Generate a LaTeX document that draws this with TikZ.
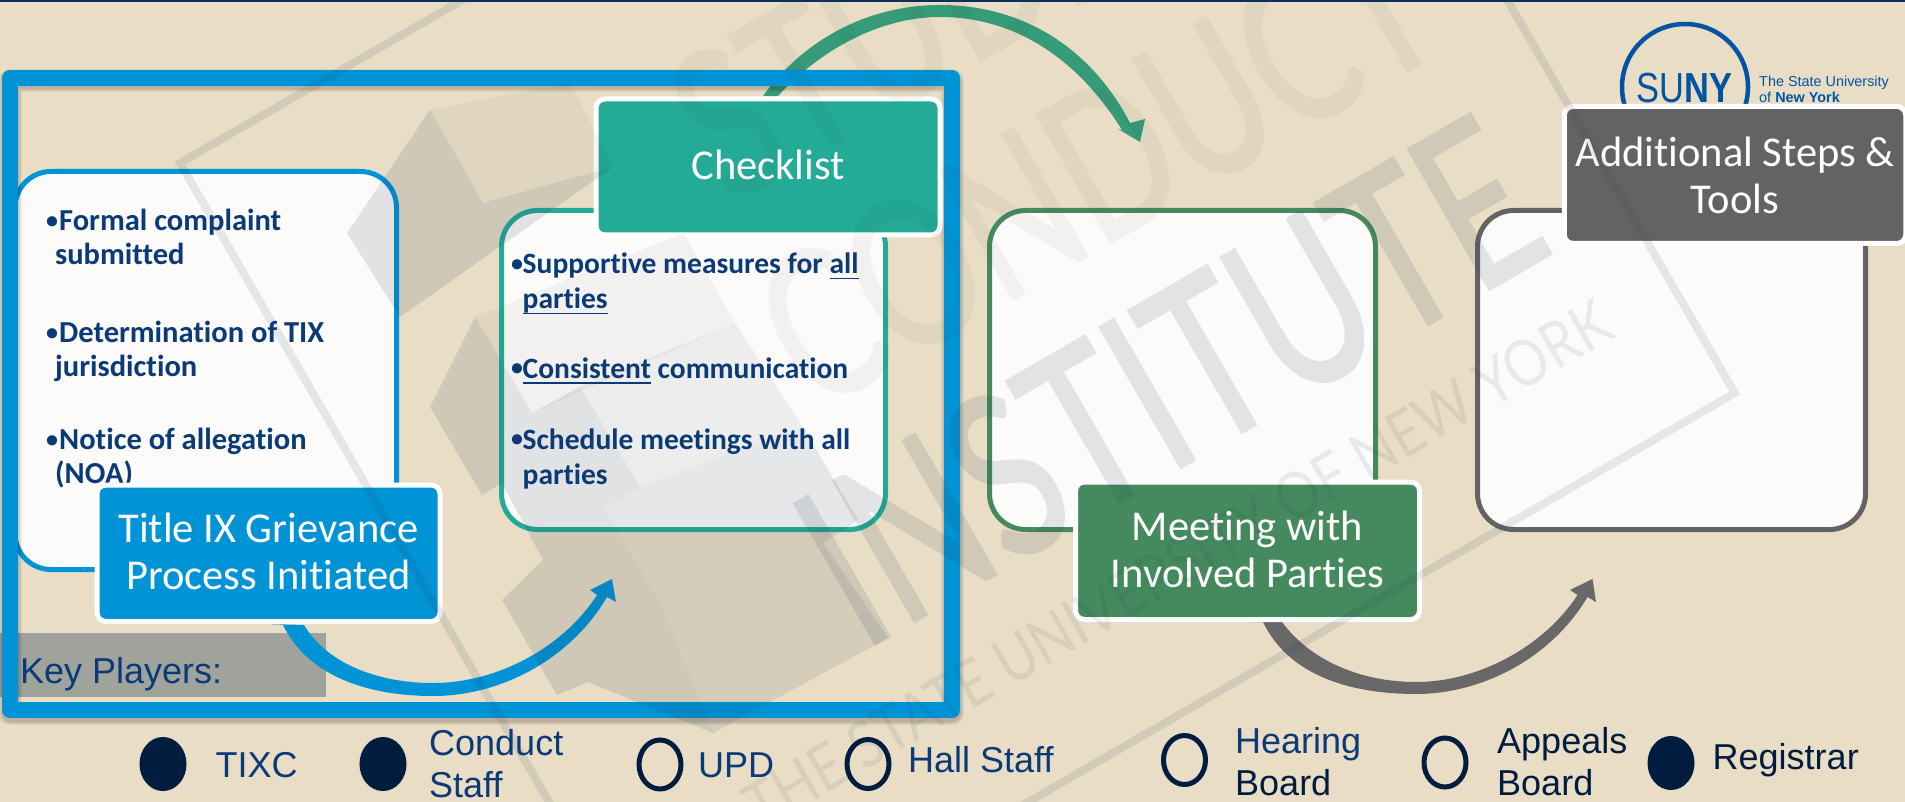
\documentclass[tikz,border=0pt]{standalone}
\usepackage{fontspec}
\usetikzlibrary{shapes.geometric}
\setmainfont{Liberation Sans}
\newfontfamily\calfont[Ligatures=NoCommon]{Carlito}
\newfontfamily\latofont[UprightFeatures={FakeBold=1.6}]{Lato}
\newfontfamily\latoplain{Lato}
\newcommand\ulx[1]{\setbox0=\hbox{#1}\rlap{\rule[-5.5pt]{\wd0}{1.7pt}}\box0{}}
\newcommand\bul[1]{\makebox[#1][l]{\raisebox{2.5pt}{\fontsize{24}{24}\selectfont •}}}
\definecolor{bgc}{HTML}{E9DDC5}
\definecolor{topbar}{HTML}{0B2F5C}
\definecolor{boxfill}{HTML}{FCFBF9}
\definecolor{blueC}{HTML}{0093D6}
\definecolor{tealC}{HTML}{23AB97}
\definecolor{greenC}{HTML}{448A5E}
\definecolor{grayC}{HTML}{636363}
\definecolor{arrgreen}{HTML}{359B78}
\definecolor{keygray}{HTML}{9FA39C}
\definecolor{navy}{HTML}{0A3A78}
\definecolor{deep}{HTML}{001D3F}
\definecolor{sunyblue}{HTML}{0054A4}
\definecolor{wm}{RGB}{40,60,90}
\definecolor{wmlight}{RGB}{70,70,60}
\pgfdeclarelayer{rectlayer}
\pgfdeclarelayer{arrowlayer}
\pgfsetlayers{rectlayer,arrowlayer,main}
\tikzset{
 bodybox/.style={draw,fill=boxfill,line width=5pt,rounded corners=36pt,inner sep=0pt,rectangle},
 headbox/.style={draw=white,line width=5pt,rounded corners=9pt,inner sep=0pt,rectangle,text=white,align=center,
   font=\calfont\fontsize{42.5}{47}\selectfont},
 bultext/.style={anchor=north west,inner sep=0pt,align=left,text=navy,font=\calfont\bfseries\fontsize{29.5}{35}\selectfont},
 bulwide/.style={anchor=north west,inner sep=0pt,align=left,text=navy,font=\calfont\bfseries\fontsize{30.5}{34}\selectfont},
 legtext/.style={anchor=north west,inner sep=0pt,align=left,font=\fontsize{36}{42.5}\selectfont},
 legfull/.style={ellipse,draw=deep,fill=deep,line width=5pt,minimum width=42pt,minimum height=49pt,inner sep=0pt},
 legopen/.style={ellipse,draw=deep,line width=5pt,minimum width=42pt,minimum height=49pt,inner sep=0pt},
 wmdark/.style={fill=wm,fill opacity=.13},
 wmmid/.style={fill=wm,fill opacity=.10},
 wmsoft/.style={fill=wm,fill opacity=.07},
 wmpale/.style={fill=wmlight,fill opacity=.05},
}
\begin{document}
\begin{tikzpicture}[x=1pt,y=-1pt]
\useasboundingbox (0,0) rectangle (1905,802);
\begin{pgfonlayer}{rectlayer}
\fill[bgc] (0,0) rectangle (1905,802);
\fill[topbar] (0,0) rectangle (1905,2.5);
\node[rectangle,fill=keygray,inner sep=0pt,minimum width=326pt,minimum height=64pt] (keyrect) at (163,665) {};
\end{pgfonlayer}

% SUNY logo
\draw[sunyblue,line width=4.5pt] (1685,87) circle (63);
\node[inner sep=0pt,anchor=base,text=sunyblue,xscale=.82,transform shape] (sunyword) at (1684.5,103) {\fontsize{42}{42}\selectfont SU\textbf{NY}};
\node[inner sep=0pt,anchor=base west,text=sunyblue] (sunyone) at (1759,87) {\fontsize{14.4}{14.4}\selectfont The State University};
\node[inner sep=0pt,anchor=base west,text=sunyblue] (sunytwo) at (1759,102.7) {\fontsize{14.4}{14.4}\selectfont of \textbf{New York}};

% body boxes
\node[bodybox,draw=blueC,minimum width=381.5pt,minimum height=398pt] (leftbox) at (205.75,370.5) {};
\node[bodybox,draw=tealC,minimum width=384pt,minimum height=319pt] (tealbox) at (693.5,370) {};
\node[bodybox,draw=greenC,minimum width=386pt,minimum height=319pt] (greenbox) at (1182.5,370) {};
\node[bodybox,draw=grayC,minimum width=388pt,minimum height=319pt] (graybox) at (1671.5,370) {};

% bullet texts
\node[bulwide] (ba) at (46,206.5) {\rule{0pt}{24pt}\bul{13pt}Formal complaint\\\hspace*{9pt}submitted};
\node[bulwide] (bb) at (46,318.5) {\rule{0pt}{24pt}\bul{13pt}Determination of TIX\\\hspace*{9pt}jurisdiction};
\node[bulwide] (bc) at (46,425.5) {\rule{0pt}{24pt}\bul{13pt}Notice of allegation\\\hspace*{9pt}(NOA)};
\node[bultext] (bd) at (511,249.5) {\rule{0pt}{24pt}\bul{11.5pt}Supportive measures for \ulx{all}\\\hspace*{11.5pt}\ulx{parties}};
\node[bultext] (be) at (511,354) {\rule{0pt}{24pt}\bul{11.5pt}\ulx{Consistent} communication};
\node[bultext] (bf) at (511,425) {\rule{0pt}{24pt}\bul{11.5pt}Schedule meetings with all\\\hspace*{11.5pt}parties};

% frame with its soft shadow
\foreach \k in {1,2,3,4}{
 \draw[black,opacity=.05,line width={15pt+2*\k pt},line join=round] (10,81) rectangle (952,713);
}
\node[rectangle,draw=blueC,line width=16pt,line join=round,inner sep=0pt,minimum width=942pt,minimum height=632pt] (mainframe) at (481,394) {};

% header boxes
\node[headbox,fill=blueC,minimum width=343pt,minimum height=136.5pt] (titlebox) at (268.5,553.25) {Title IX Grievance\\Process Initiated\rule[-4pt]{0pt}{4pt}};
\node[headbox,fill=tealC,minimum width=344pt,minimum height=136pt] (checkbox) at (768,167) {Checklist\rule[-4pt]{0pt}{4pt}};
\node[headbox,fill=greenC,minimum width=344pt,minimum height=137.5pt] (meetbox) at (1247.5,550.75) {Meeting with\\Involved Parties\rule[-3pt]{0pt}{3pt}};
\node[headbox,fill=grayC,minimum width=341.5pt,minimum height=137pt] (addbox) at (1735,175) {Additional Steps \&\\Tools};

% arrow tips
\coordinate (bluetip) at (612,579);
\coordinate (graytip) at (1592.5,579);
\coordinate (greentip) at (1140,142);
\begin{pgfonlayer}{arrowlayer}
\fill[blueC] (titlebox.south) -- (283,625) .. controls (310,680) and (375,696) .. (433,696)
  .. controls (500,696) and (570,660) .. (607,597) -- (616,602) -- (bluetip) -- (590,590) -- (597,595)
  .. controls (565,645) and (500,683) .. (433,683) .. controls (380,683) and (328,665) .. (304,625) -- cycle;
\fill[grayC!97!white] (meetbox.south) -- (1263,622) .. controls (1290,678) and (1355,694) .. (1416,694)
  .. controls (1480,694) and (1550,660) .. (1587.5,597) -- (1596,602) -- (graytip) -- (1570,590) -- (1577.5,595)
  .. controls (1545,645) and (1480,682) .. (1416,682) .. controls (1360,682) and (1310,660) .. (1282,622) -- cycle;
\fill[arrgreen] (checkbox.north) -- (763,96) .. controls (805,38) and (870,5) .. (940,5)
  .. controls (1030,5) and (1095,55) .. (1130,123) -- (1145,119) -- (greentip) -- (1118,129) -- (1122,130)
  .. controls (1085,70) and (1025,17) .. (940,17) .. controls (880,17) and (820,50) .. (778,96) -- cycle;
\end{pgfonlayer}

% watermark, lying over everything above
\begin{scope}
\clip (0,0) rectangle (1905,802);
\draw[wm,draw opacity=.11,line width=8pt,line join=miter] (180,163) -- (1245.7,-452) -- (1734.7,393) -- (669,1010) -- cycle;
\fill[wmdark] (430,110) -- (347,233) -- (400,317) -- (613,167) -- (483,203) -- cycle;
\fill[wmpale] (430,110) -- (570,83) -- (613,167) -- (483,203) -- cycle;
\fill[wmdark] (475,317) -- (430,407) -- (482,495) -- (502,483) -- (543,560) -- (502,600) -- (557,695) -- (588,682) -- (713,733) -- (663,610) -- (603,507) -- (640,487) -- (580,387) -- (532,413) -- cycle;
\fill[wmpale] (475,317) -- (683,233) -- (735,323) -- (532,413) -- cycle;
\fill[wmsoft] (580,387) -- (735,323) -- (803,427) -- (640,487) -- cycle;
\fill[wmmid] (603,507) -- (640,487) -- (803,427) -- (858,520) -- (823,543) -- (663,610) -- cycle;
\fill[wmmid] (663,610) -- (823,543) -- (888,638) -- (713,733) -- cycle;
\begin{scope}[transparency group,opacity=.05]
\node[inner sep=0pt,anchor=base west,rotate=30,xscale=.72,transform shape,text=wmlight] (wmone) at (730,205)
  {\latofont\fontsize{205}{205}\selectfont STUDENT};
\node[inner sep=0pt,anchor=base east,rotate=30,xscale=.72,transform shape,text=wmlight] (wmtwo) at (1451,46)
  {\latofont\fontsize{205}{205}\selectfont CONDUCT};
\end{scope}
\begin{scope}[transparency group,opacity=.12]
\node[inner sep=0pt,anchor=base east,rotate=30,xscale=.72,transform shape,text=wm] (wmthree) at (1557,250)
  {\latofont\fontsize{225}{225}\selectfont INSTITUTE};
\end{scope}
\node[inner sep=0pt,anchor=base east,rotate=30,xscale=.85,transform shape,text=wm,opacity=.09] (wmfour) at (1617,337)
  {\latoplain\fontsize{64}{64}\selectfont THE STATE UNIVERSITY OF NEW YORK};
\end{scope}

% key players and legend
\node[inner sep=0pt,anchor=base west,text=navy] (keytext) at (20,683) {\fontsize{36}{36}\selectfont Key Players:};
\node[legfull] (lga) at (163,764) {};
\node[legtext,text=navy] (tga) at (215.5,749) {\rule{0pt}{28pt}TIXC};
\node[legfull] (lgb) at (383,764) {};
\node[legtext,text=navy] (tgb) at (429,727) {\rule{0pt}{28pt}Conduct\\Staff};
\node[legopen] (lgc) at (660,764.5) {};
\node[legtext,text=navy] (tgc) at (698,749) {\rule{0pt}{28pt}UPD};
\node[legopen] (lgd) at (868,764) {};
\node[legtext,text=navy] (tgd) at (908,744) {\rule{0pt}{28pt}Hall Staff};
\node[legopen] (lge) at (1184.5,760) {};
\node[legtext,text=deep] (tge) at (1235,725) {\rule{0pt}{28pt}\textcolor{navy}{Hearing}\\Board};
\node[legopen] (lgf) at (1445,762.5) {};
\node[legtext,text=deep] (tgf) at (1497,725) {\rule{0pt}{28pt}Appeals\\Board};
\node[legfull] (lgg) at (1671,763) {};
\node[legtext,text=deep] (tgg) at (1712.5,741) {\rule{0pt}{28pt}Registrar};
\end{tikzpicture}
\end{document}
